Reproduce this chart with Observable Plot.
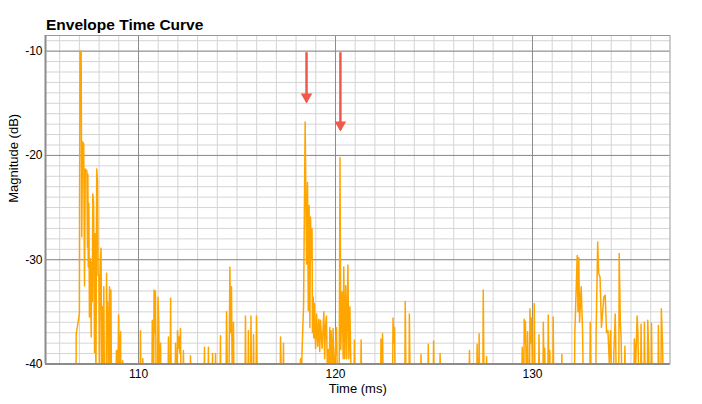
<!DOCTYPE html>
<html><head><meta charset="utf-8">
<script src="https://cdn.jsdelivr.net/npm/d3@7"></script>
<script src="https://cdn.jsdelivr.net/npm/@observablehq/plot@0.6"></script>
<style>
body{margin:0;background:#fff;width:702px;height:404px;overflow:hidden}
#title{height:34px;box-sizing:border-box;padding:15px 0 0 46px;font:bold 15.5px "Liberation Sans",Arial,sans-serif;line-height:20px;color:#000}
</style></head><body>
<div id="title">Envelope Time Curve</div>
<div id="chart"></div>
<script>
// Envelope time curve: [time (ms), magnitude (dB)]; values below -40 fall off the bottom of the plot
const etc = [
[105.28,-50],
[106.81,-50],[106.84,-37.1],[107.0,-35.2],[107.03,-10],[107.09,-10],[107.12,-27.8],[107.16,-18.7],[107.22,-18.9],[107.26,-32.5],[107.3,-21.3],[107.38,-21.5],[107.41,-28.8],[107.43,-21.8],[107.45,-30.7],[107.48,-24.6],[107.51,-35.5],[107.55,-29.9],[107.6,-37.4],[107.62,-30.2],[107.66,-34],[107.68,-23.7],[107.72,-24.5],[107.77,-38.9],[107.8,-27.5],[107.84,-42],[107.88,-21.3],[107.92,-22.5],[107.95,-31.5],[107.99,-31.5],[108.02,-42],[108.05,-30.9],[108.1,-28.9],[108.14,-42],[108.19,-34.5],[108.21,-42],[108.24,-32.6],[108.27,-42],[108.36,-42],[108.38,-31.3],[108.41,-37.4],[108.43,-34],[108.46,-42],[108.53,-32.6],[108.56,-42],[108.6,-32.9],[108.63,-42],[108.86,-42],[108.88,-38.7],[108.92,-38.7],[108.95,-42],[108.99,-35.3],[109.02,-38.7],[109.05,-42],[109.09,-36.9],[109.11,-42],[109.19,-42],[109.2,-39.7],[109.22,-42],
[110.08,-42],[110.1,-36.8],[110.13,-42],[110.2,-42],[110.22,-39.5],[110.24,-42],
[110.68,-42],[110.7,-35.8],[110.73,-42],[110.77,-42],[110.79,-32.9],[110.82,-37],[110.86,-33.0],[110.9,-42],[110.97,-42],[110.99,-33.6],[111.03,-36],[111.06,-42],[111.1,-42],[111.12,-38.0],[111.14,-42],[111.5,-42],[111.52,-37.4],[111.55,-42],[111.61,-42],[111.63,-33.7],[111.66,-42],[111.86,-42],[111.88,-38],[111.93,-42],[111.96,-42],[111.98,-36.8],[112.02,-38.5],[112.06,-37.4],[112.1,-39],[112.13,-36.6],[112.16,-42],[112.26,-42],[112.28,-38.7],[112.31,-42],[112.62,-42],[112.64,-39.2],[112.67,-42],
[113.33,-42],[113.35,-38.4],[113.37,-42],[113.53,-42],[113.55,-38.4],[113.57,-42],[113.74,-42],[113.76,-39],[113.78,-42],[113.89,-42],[113.91,-39],[113.93,-42],[114.14,-42],[114.16,-37.3],[114.18,-42],
[114.44,-42],[114.47,-35.0],[114.52,-42],[114.6,-40],[114.64,-30.7],[114.68,-37],[114.72,-32.6],[114.76,-42],[114.8,-42],[114.82,-36],[114.85,-42],
[115.41,-42],[115.43,-35.4],[115.46,-42],[115.56,-42],[115.58,-36.8],[115.61,-42],[115.69,-42],[115.71,-35.4],[115.74,-42],[115.82,-42],[115.84,-37.2],[115.87,-42],[115.97,-42],[115.99,-35.4],[116.03,-42],
[117.19,-42],[117.21,-37.4],[117.26,-42],[117.34,-42],[117.36,-38],[117.38,-42],
[118.2,-42],[118.22,-39.5],[118.28,-40.5],[118.31,-38.4],[118.38,-34.4],[118.46,-16.8],[118.53,-30.4],[118.58,-22.6],[118.62,-34.9],[118.66,-24.8],[118.7,-36.5],[118.73,-25.9],[118.78,-30],[118.81,-27.0],[118.83,-37.0],[118.87,-33.6],[118.9,-37.5],[118.93,-34.2],[118.99,-38.5],[119.04,-35.2],[119.1,-38.3],[119.15,-35.7],[119.2,-38.8],[119.24,-35.8],[119.32,-38.5],[119.41,-35.0],[119.45,-39.5],[119.49,-36.5],[119.54,-35.4],[119.6,-42],[119.63,-38.6],[119.68,-42],[119.71,-36.5],[119.75,-42],[119.78,-36.8],[119.83,-41],[119.88,-36.6],[119.94,-42],[120.0,-38.6],[120.05,-36.5],[120.1,-42],[120.15,-42],[120.19,-40],[120.23,-20.2],[120.27,-38.6],[120.34,-33.1],[120.39,-39.5],[120.42,-30.7],[120.47,-39.5],[120.52,-32.5],[120.57,-39.5],[120.63,-30.5],[120.68,-39.5],[120.73,-34.5],[120.8,-42],
[120.94,-42],[120.96,-37.7],[120.99,-42],[121.28,-42],[121.3,-37.7],[121.33,-42],
[122.29,-42],[122.31,-37.6],[122.35,-42],[122.37,-42],[122.39,-37.1],[122.42,-42],
[122.9,-42],[122.92,-35.6],[122.96,-38],[123.0,-36.5],[123.03,-42],
[123.52,-42],[123.54,-34.0],[123.58,-42],[123.73,-42],[123.75,-35.2],[123.79,-42],
[124.32,-42],[124.34,-39.1],[124.37,-42],[124.69,-42],[124.71,-38.1],[124.74,-42],[124.96,-42],[124.98,-37.8],[125.01,-42],[125.29,-42],[125.31,-39.0],[125.34,-42],
[126.78,-42],[126.8,-38.7],[126.83,-42],[127.17,-42],[127.19,-38.1],[127.22,-42],[127.27,-42],[127.29,-37.1],[127.32,-42],[127.48,-42],[127.5,-32.9],[127.54,-42],[127.65,-42],[127.67,-39.3],[127.7,-42],
[129.46,-42],[129.48,-38.4],[129.52,-42],[129.56,-42],[129.58,-35.7],[129.61,-38],[129.64,-35.9],[129.7,-42],[129.73,-42],[129.75,-36.9],[129.79,-42],[129.85,-42],[129.87,-34.7],[129.91,-38],[129.96,-35.6],[130.0,-42],[130.07,-42],[130.09,-34.2],[130.13,-42],
[130.31,-42],[130.33,-37.2],[130.36,-42],[130.53,-42],[130.55,-36.0],[130.59,-42],[130.62,-38.5],[130.65,-42],[130.78,-42],[130.8,-35.3],[130.84,-42],[130.88,-38.7],[130.9,-42],[131.03,-42],[131.05,-35.5],[131.08,-42],[131.47,-42],[131.49,-39.1],[131.51,-42],
[132.13,-42],[132.15,-37.0],[132.27,-29.6],[132.31,-35],[132.35,-29.8],[132.39,-36],[132.47,-32.6],[132.54,-36.6],[132.58,-42],
[132.91,-42],[132.93,-36.0],[132.96,-42],[133.21,-42],[133.23,-37.0],[133.31,-28.3],[133.36,-31.3],[133.43,-31.7],[133.5,-36.5],[133.62,-33.6],[133.69,-33.4],[133.76,-37],[133.83,-36.8],[133.9,-40],[133.96,-36.8],[134.02,-42],[134.11,-42],[134.13,-39.0],[134.2,-35.2],[134.26,-42],[134.38,-42],[134.4,-29.4],[134.46,-36],[134.5,-37.6],[134.54,-42],[134.67,-42],[134.69,-38.3],[134.72,-42],
[135.15,-42],[135.17,-37.6],[135.24,-40],[135.31,-35.4],[135.35,-37],[135.4,-42],[135.49,-42],[135.51,-36.2],[135.55,-42],[135.66,-42],[135.68,-36.0],[135.72,-42],[135.83,-42],[135.85,-35.8],[135.9,-38.7],[135.93,-42],[136.02,-42],[136.04,-36.1],[136.08,-42],[136.37,-42],[136.39,-36.3],[136.43,-42],[136.52,-42],[136.54,-34.7],[136.6,-37.9],[136.64,-42],[136.96,-42]
];
const xTicks = [110, 120, 130];
const yTicks = [-10, -20, -30, -40];
const xDomain = [105.28, 136.98];
const yDomain = [-40, -8.5];
// annotation arrows (time, start dB, tip dB)
const arrowTime = [118.53, 120.25];
const arrowStartDb = [-10.1, -10.1];
const arrowTipDb = [-14.85, -17.55];

const chart = Plot.plot({
  width: 702, height: 370,
  marginTop: 1, marginBottom: 40.5, marginLeft: 45, marginRight: 32.5,
  x: {domain: xDomain},
  y: {domain: yDomain},
  style: {fontFamily: "Liberation Sans, Arial, sans-serif", fontSize: "12px", color: "#000", background: "#fff"},
  marks: [
    Plot.ruleX(d3.range(106, 137), {stroke: "#d4d4d4", strokeWidth: 1}),
    Plot.ruleY(d3.range(-40, -8), {stroke: "#d4d4d4", strokeWidth: 1}),
    Plot.ruleX(xTicks, {stroke: "#8c8c8c", strokeWidth: 1}),
    Plot.ruleY(yTicks, {stroke: "#8c8c8c", strokeWidth: 1}),
    Plot.line(etc, {x: d => d[0], y: d => d[1], stroke: "#ffa500", strokeWidth: 1.5, clip: true}),
    Plot.link(arrowTime, {x1: d => d, x2: d => d, y1: (d, i) => arrowStartDb[i], y2: (d, i) => arrowTipDb[i], stroke: "#f0594a", strokeWidth: 2.5}),
    Plot.dot(arrowTime, {x: d => d, y: (d, i) => arrowTipDb[i], symbol: "triangle", r: 4.3, rotate: 180, fill: "#f0594a", stroke: "none", dy: -5}),
    Plot.frame({stroke: "#9a9a9a"}),
    Plot.ruleY([yDomain[0]], {stroke: "#8c8c8c", strokeWidth: 2}),
    Plot.ruleX([xDomain[0]], {stroke: "#8c8c8c", strokeWidth: 2}),
    Plot.axisX(xTicks, {tickSize: 0, tickPadding: 5, label: null, fontSize: 12, tickFormat: d => String(d)}),
    Plot.axisY(yTicks, {tickSize: 0, tickPadding: 3, label: null, fontSize: 12, tickFormat: d => String(d)}),
    Plot.text(["Time (ms)"], {frameAnchor: "bottom", lineAnchor: "middle", dy: 24.5, fontSize: 13}),
    Plot.text(["Magnitude (dB)"], {frameAnchor: "left", lineAnchor: "middle", dx: -32, dy: 3, rotate: -90, fontSize: 13})
  ]
});
document.getElementById("chart").appendChild(chart);
</script>
</body></html>
